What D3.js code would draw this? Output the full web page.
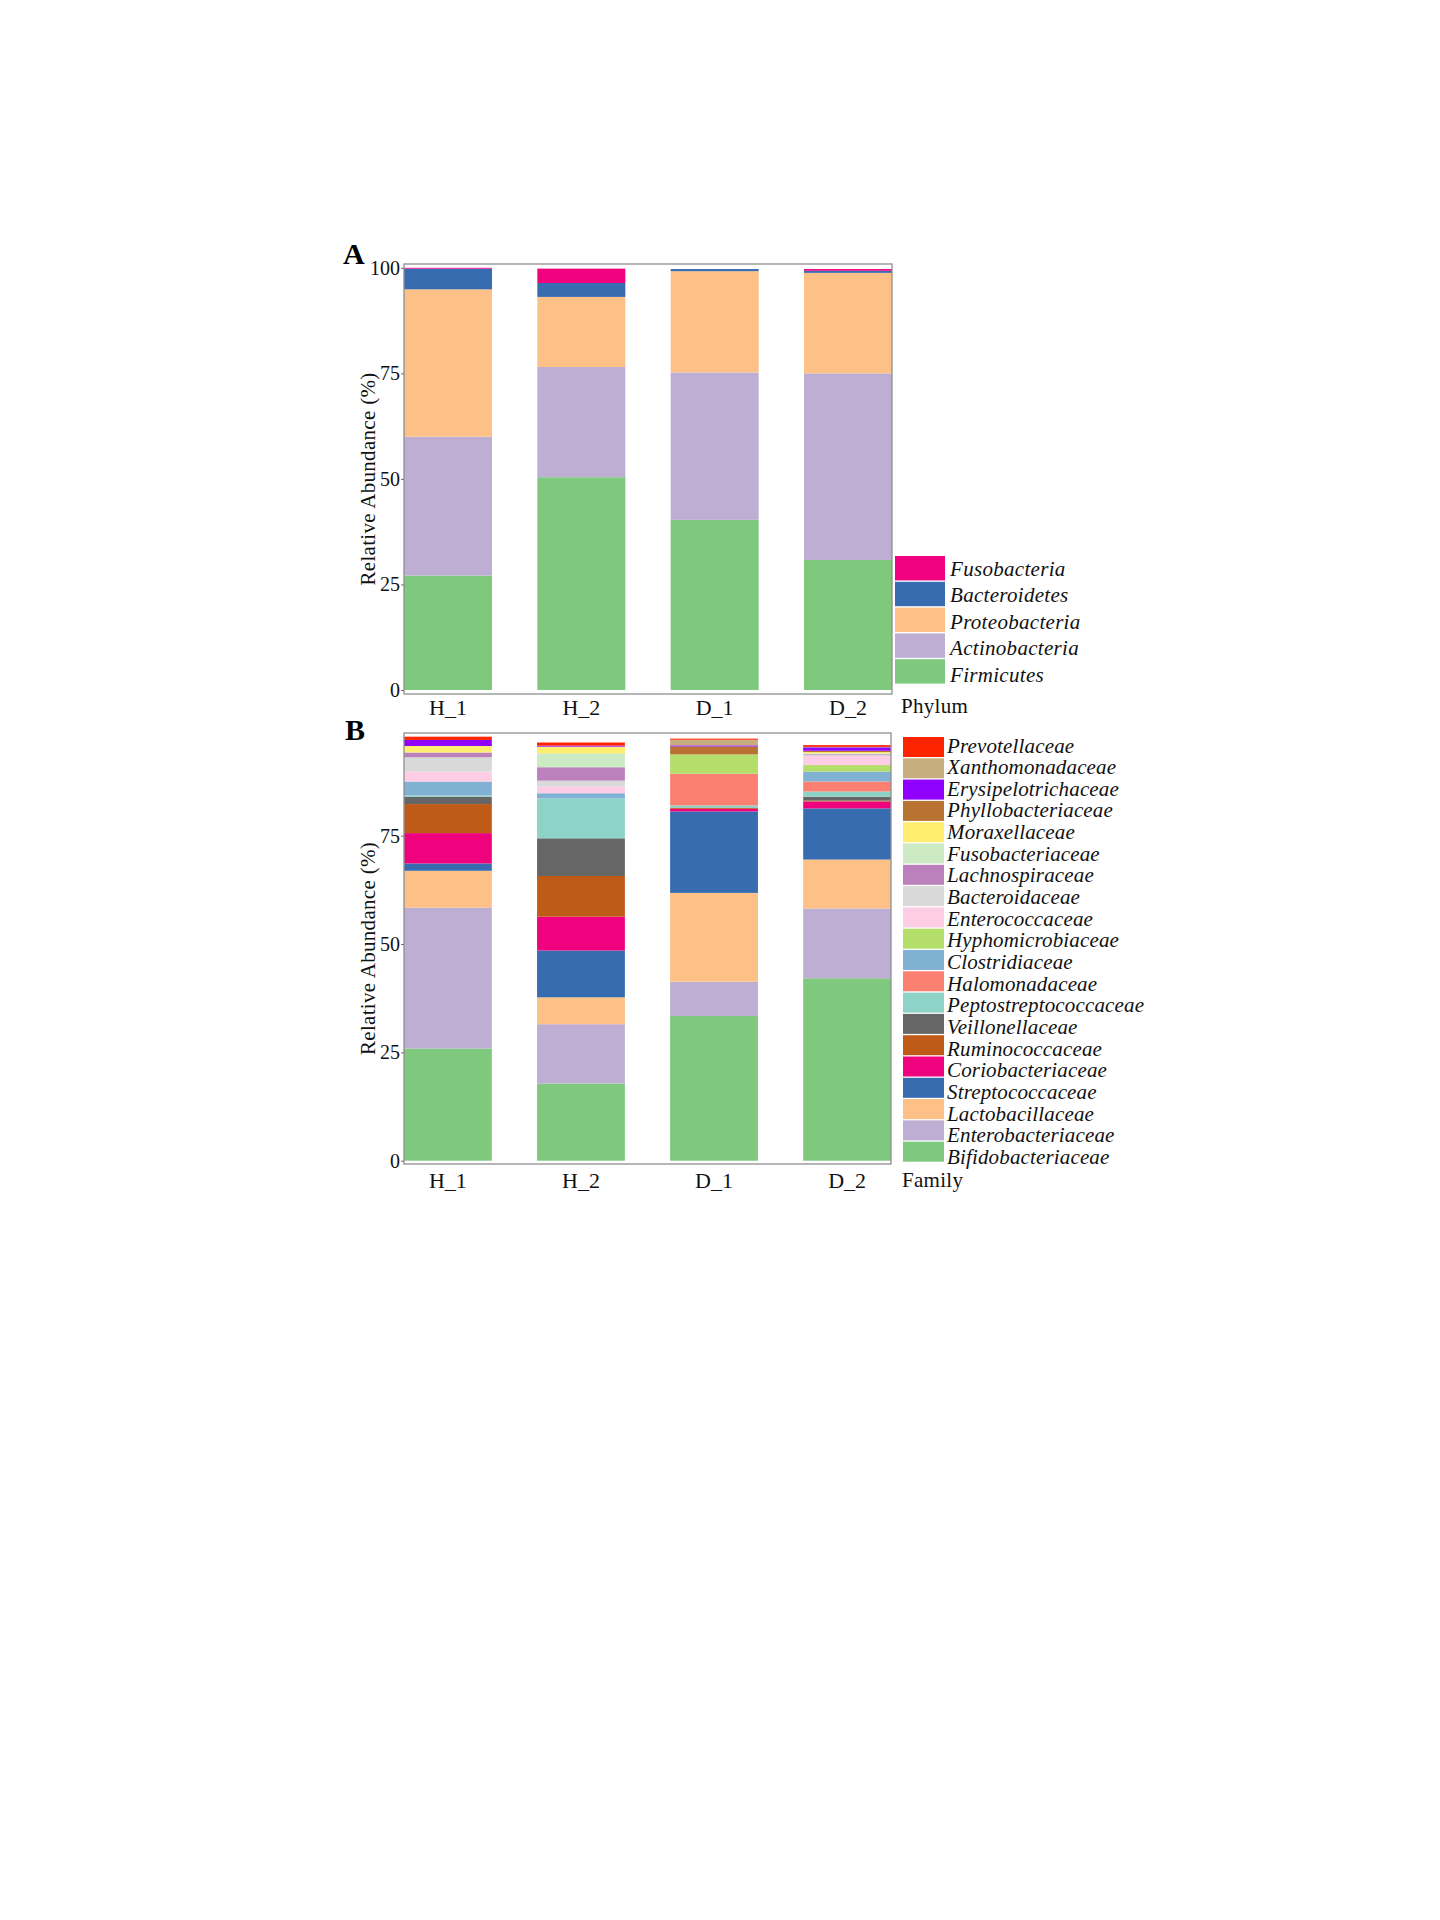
<!DOCTYPE html>
<html>
<head>
<meta charset="utf-8">
<script src="https://cdn.jsdelivr.net/npm/d3@7"></script>
<style>
  html, body { margin: 0; padding: 0; background: #ffffff; }
  svg { display: block; }
  text { font-family: "Liberation Serif", "Times New Roman", serif; }
</style>
</head>
<body>
<script>
// ---------------- DATA ----------------
const samples = ["H_1", "H_2", "D_1", "D_2"];

// Panel A: phylum level (stack order bottom -> top)
const phyla = ["Firmicutes", "Actinobacteria", "Proteobacteria", "Bacteroidetes", "Fusobacteria"];
const phylumColors = ["#7FC97F", "#BEAED4", "#FDC086", "#386CB0", "#F0027F"];
const firmicutes     = [27.1, 50.4, 40.3, 30.8];
const actinobacteria = [32.9, 26.1, 34.9, 44.2];
const proteobacteria = [34.9, 16.6, 24.0, 23.8];
const bacteroidetes  = [4.9, 3.3, 0.5, 0.5];
const fusobacteria   = [0.2, 3.4, 0.0, 0.4];

// Panel B: family level (stack order bottom -> top)
const families = ["Bifidobacteriaceae", "Enterobacteriaceae", "Lactobacillaceae", "Streptococcaceae",
  "Coriobacteriaceae", "Ruminococcaceae", "Veillonellaceae", "Peptostreptococcaceae", "Halomonadaceae",
  "Clostridiaceae", "Hyphomicrobiaceae", "Enterococcaceae", "Bacteroidaceae", "Lachnospiraceae",
  "Fusobacteriaceae", "Moraxellaceae", "Phyllobacteriaceae", "Erysipelotrichaceae", "Xanthomonadaceae",
  "Prevotellaceae"];
const familyColors = ["#7FC97F", "#BEAED4", "#FDC086", "#386CB0", "#F0027F", "#BF5B17", "#666666",
  "#8DD3C7", "#FB8072", "#80B1D3", "#B3DE69", "#FCCDE5", "#D9D9D9", "#BC80BD", "#CCEBC5", "#FFED6F",
  "#B87333", "#8F00FF", "#C8AD7F", "#FF2400"];
const familyH1 = [25.9, 32.5, 8.5, 1.7, 7.0, 6.7, 1.7, 0.3, 0, 3.2, 0, 2.3, 3.3, 1.1, 0, 1.5, 0, 1.4, 0, 0.75];
const familyH2 = [17.8, 13.7, 6.2, 10.8, 7.8, 9.4, 8.7, 9.2, 0, 1.2, 0, 1.5, 1.4, 3.1, 3.2, 1.55, 0, 0.25, 0, 0.7];
const familyD1 = [33.4, 7.9, 20.5, 18.8, 0.6, 0.2, 0.1, 0.5, 7.3, 0, 4.45, 0, 0, 0, 0, 0, 1.85, 0.25, 1.3, 0.25];
const familyD2 = [42.1, 16.1, 11.3, 11.8, 1.6, 0.2, 0.9, 1.2, 2.3, 2.3, 1.5, 2.1, 0.2, 0.2, 0.2, 0.3, 0.3, 0.8, 0.1, 0.4];

const ticksA = [0, 25, 50, 75, 100];
const ticksB = [0, 25, 50, 75];
const yTitle = "Relative Abundance (%)";

// ---------------- BUILD TABLES ----------------
const phylumSeries = [firmicutes, actinobacteria, proteobacteria, bacteroidetes, fusobacteria];
const tableA = samples.map((s, i) => {
  const row = { sample: s };
  phyla.forEach((p, j) => row[p] = phylumSeries[j][i]);
  return row;
});
const familyBySample = [familyH1, familyH2, familyD1, familyD2];
const tableB = samples.map((s, i) => {
  const row = { sample: s };
  families.forEach((f, j) => row[f] = familyBySample[i][j]);
  return row;
});

// ---------------- DRAW ----------------
const W = 1440, H = 1920;
const svg = d3.select("body").append("svg").attr("width", W).attr("height", H);
svg.append("rect").attr("width", W).attr("height", H).attr("fill", "#fff");

const serif = '"Liberation Serif", "Times New Roman", serif';

function panel(cfg) {
  const { table, keys, colors, top, bottom, left, right, domain, ticks, labelPad } = cfg;
  const g = svg.append("g");
  const x = d3.scaleBand().domain(samples).range([left, right]).paddingInner(0.34).paddingOuter(0);
  const y = d3.scaleLinear().domain(domain).range([bottom, top]);
  const color = d3.scaleOrdinal().domain(keys).range(colors);
  const stacked = d3.stack().keys(keys)(table);

  g.selectAll("g.layer").data(stacked).join("g")
    .attr("class", "layer")
    .attr("fill", d => color(d.key))
    .selectAll("rect").data(d => d).join("rect")
    .attr("x", d => x(d.data.sample))
    .attr("width", x.bandwidth())
    .attr("y", d => y(d[1]))
    .attr("height", d => Math.max(0, y(d[0]) - y(d[1])));

  // frame
  g.append("rect")
    .attr("x", left).attr("y", top)
    .attr("width", right - left).attr("height", bottom - top)
    .attr("fill", "none").attr("stroke", "#8f8f8f").attr("stroke-width", 1.3);

  // y axis
  const ya = g.append("g").attr("transform", `translate(${left},0)`)
    .call(d3.axisLeft(y).tickValues(ticks).tickSize(3).tickPadding(1).tickFormat(d3.format("d")));
  ya.select(".domain").remove();
  ya.selectAll(".tick line").attr("stroke", "#6f6f6f");
  ya.selectAll(".tick text").attr("font-family", serif).attr("font-size", 20).attr("fill", "#111");

  // x axis
  const xa = g.append("g").attr("transform", `translate(0,${bottom})`)
    .call(d3.axisBottom(x).tickSize(0).tickPadding(labelPad));
  xa.select(".domain").remove();
  xa.selectAll(".tick text").attr("font-family", serif).attr("font-size", 22).attr("fill", "#111");

  // y title
  g.append("text")
    .attr("transform", `translate(375,${(top + bottom) / 2}) rotate(-90)`)
    .attr("text-anchor", "middle")
    .attr("font-family", serif).attr("font-size", 21).attr("letter-spacing", 0.3).attr("fill", "#111")
    .text(yTitle);
  return { x, y, color };
}

panel({ table: tableA, keys: phyla, colors: phylumColors,
  top: 264, bottom: 694, left: 404, right: 892, domain: [-0.95, 100.9], ticks: ticksA, labelPad: 5 });
panel({ table: tableB, keys: families, colors: familyColors,
  top: 733, bottom: 1164, left: 404, right: 891, domain: [-0.76, 98.7], ticks: ticksB, labelPad: 8 });

// panel letters
svg.append("text").attr("x", 343).attr("y", 264).attr("font-family", serif)
  .attr("font-weight", "bold").attr("font-size", 30).attr("fill", "#000").text("A");
svg.append("text").attr("x", 345).attr("y", 740).attr("font-family", serif)
  .attr("font-weight", "bold").attr("font-size", 30).attr("fill", "#000").text("B");

// legend A (reverse order: top item is last stack key)
const legA = phyla.slice().reverse();
const legAColors = phylumColors.slice().reverse();
const gA = svg.append("g");
gA.selectAll("rect").data(legA).join("rect")
  .attr("x", 895).attr("y", (d, i) => 556 + i * 25.8)
  .attr("width", 50).attr("height", 24.4)
  .attr("fill", (d, i) => legAColors[i]);
gA.selectAll("text").data(legA).join("text")
  .attr("x", 950).attr("y", (d, i) => 576 + i * 26.4)
  .attr("font-family", serif).attr("font-style", "italic").attr("font-size", 21)
  .attr("letter-spacing", 0.3).attr("fill", "#111")
  .text(d => d);
svg.append("text").attr("x", 901).attr("y", 713).attr("font-family", serif)
  .attr("font-size", 21).attr("letter-spacing", 0.3).attr("fill", "#111").text("Phylum");

// legend B
const legB = families.slice().reverse();
const legBColors = familyColors.slice().reverse();
const gB = svg.append("g");
gB.selectAll("rect").data(legB).join("rect")
  .attr("x", 903).attr("y", (d, i) => 737 + i * 21.3)
  .attr("width", 41).attr("height", 20)
  .attr("fill", (d, i) => legBColors[i]);
gB.selectAll("text").data(legB).join("text")
  .attr("x", 947).attr("y", (d, i) => 752.5 + i * 21.65)
  .attr("font-family", serif).attr("font-style", "italic").attr("font-size", 21)
  .attr("letter-spacing", 0.15).attr("fill", "#111")
  .text(d => d);
svg.append("text").attr("x", 902).attr("y", 1187).attr("font-family", serif)
  .attr("font-size", 21).attr("letter-spacing", 0.3).attr("fill", "#111").text("Family");
</script>
</body>
</html>
